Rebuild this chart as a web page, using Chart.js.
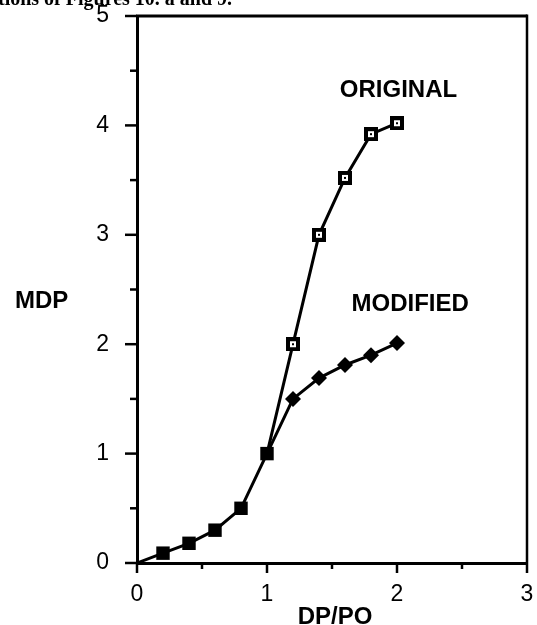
<!DOCTYPE html>
<html><head><meta charset="utf-8">
<script src="https://cdn.jsdelivr.net/npm/chart.js@4"></script>
<style>html,body{margin:0;padding:0;background:#fff;overflow:hidden}#wrap{position:relative;width:537px;height:625px}</style>
</head><body><div id="wrap"><canvas id="c" width="537" height="625"></canvas></div>
<script>
// ---- data ----
const sharedX = [0, 0.2, 0.4, 0.6, 0.8, 1.0];
const sharedY = [0, 0.09, 0.18, 0.30, 0.50, 1.0];
const branchX = [1.0, 1.2, 1.4, 1.6, 1.8, 2.0];
const originalY = [1.0, 2.0, 3.0, 3.52, 3.92, 4.02];
const modifiedY = [1.0, 1.5, 1.69, 1.81, 1.9, 2.01];
const xTickLabels = ['0', '1', '2', '3'];
const yTickLabels = ['0', '1', '2', '3', '4', '5'];
const seriesNames = ['ORIGINAL', 'MODIFIED'];
const xTitle = 'DP/PO';
const yTitle = 'MDP';
const caption = 'tions of Figures 10. a and 9.';

const toPts = (xs, ys) => xs.map((x, i) => ({x: x, y: ys[i]}));

function openSquare() {
  const c = document.createElement('canvas');
  c.width = 14; c.height = 14;
  const g = c.getContext('2d');
  g.fillStyle = '#000'; g.fillRect(0, 0, 14, 14);
  g.fillStyle = '#fff'; g.fillRect(4, 4, 6, 6);
  g.fillStyle = '#000'; g.fillRect(6, 6, 2, 2);
  return c;
}
const openSq = openSquare();

const FONT = '"Liberation Sans", Arial, Helvetica, sans-serif';

const decor = {
  id: 'decor',
  afterDraw(chart) {
    const ctx = chart.ctx, ca = chart.chartArea;
    const xs = chart.scales.x, ys = chart.scales.y;
    ctx.save();
    ctx.strokeStyle = '#000';
    ctx.lineCap = 'butt';
    ys.ticks.forEach(t => {
      const py = ys.getPixelForValue(t.value);
      const major = Number.isInteger(t.value);
      ctx.lineWidth = 2.5;
      ctx.beginPath(); ctx.moveTo(ca.left, py); ctx.lineTo(ca.left - (major ? 12 : 7), py); ctx.stroke();
    });
    xs.ticks.forEach(t => {
      const px = xs.getPixelForValue(t.value);
      const major = Number.isInteger(t.value);
      ctx.lineWidth = 2.5;
      ctx.beginPath(); ctx.moveTo(px, ca.bottom); ctx.lineTo(px, ca.bottom + (major ? 10 : 6)); ctx.stroke();
    });
    ctx.lineWidth = 3;
    ctx.beginPath(); ctx.moveTo(ca.left - 1, ca.top); ctx.lineTo(ca.right, ca.top); ctx.stroke();
    ctx.lineWidth = 2.5;
    ctx.beginPath(); ctx.moveTo(ca.right, ca.top - 1.5); ctx.lineTo(ca.right, ca.bottom); ctx.stroke();
    ctx.fillStyle = '#000';
    ctx.font = 'bold 24px ' + FONT;
    ctx.textBaseline = 'middle';
    ctx.textAlign = 'left';
    ctx.fillText(seriesNames[0], xs.getPixelForValue(1.56), ys.getPixelForValue(4.32));
    ctx.fillText(seriesNames[1], xs.getPixelForValue(1.65), ys.getPixelForValue(2.36));
    ctx.fillText(yTitle, 15, 301);
    ctx.textAlign = 'center';
    ctx.fillText(xTitle, (ca.left + ca.right) / 2 + 3, 617);
    ctx.textAlign = 'left';
    ctx.textBaseline = 'alphabetic';
    ctx.font = 'bold 20px "Liberation Serif", "Times New Roman", serif';
    ctx.fillText(caption, -2, 5);
    ctx.restore();
  }
};

new Chart(document.getElementById('c'), {
  type: 'line',
  data: {
    datasets: [
      {
        label: 'shared',
        data: toPts(sharedX, sharedY),
        borderColor: '#000', backgroundColor: '#000', borderWidth: 3,
        pointStyle: 'rect', pointRadius: sharedX.map((x, i) => i === 0 ? 0 : 9.5),
        pointBorderWidth: 0, tension: 0
      },
      {
        label: seriesNames[0],
        data: toPts(branchX, originalY),
        borderColor: '#000', backgroundColor: '#000', borderWidth: 3,
        pointStyle: openSq, pointRadius: branchX.map((x, i) => i === 0 ? 0 : 7),
        tension: 0
      },
      {
        label: seriesNames[1],
        data: toPts(branchX, modifiedY),
        borderColor: '#000', backgroundColor: '#000', borderWidth: 3,
        pointStyle: 'rectRot', pointRadius: branchX.map((x, i) => i === 0 ? 0 : 8),
        pointBorderWidth: 0, tension: 0
      }
    ]
  },
  options: {
    responsive: false, animation: false, devicePixelRatio: 1,
    layout: {padding: 0},
    plugins: {legend: {display: false}, tooltip: {enabled: false}},
    scales: {
      x: {
        type: 'linear', min: 0, max: 3,
        afterFit: s => { s.height = 62; s.paddingRight = 10; s.paddingLeft = 0; },
        border: {display: true, color: '#000', width: 3},
        grid: {display: true, drawOnChartArea: false, color: 'transparent', tickColor: 'transparent', tickLength: 10},
        ticks: {stepSize: 0.5, padding: 8, color: '#000', font: {family: FONT, size: 23},
          maxRotation: 0, autoSkip: false,
          callback: v => Number.isInteger(v) ? xTickLabels[v] : ''}
      },
      y: {
        type: 'linear', min: 0, max: 5,
        afterFit: s => { s.width = 137; s.paddingTop = 16; s.paddingBottom = 0; },
        border: {display: true, color: '#000', width: 3},
        grid: {display: true, drawOnChartArea: false, color: 'transparent', tickColor: 'transparent', tickLength: 12},
        ticks: {stepSize: 0.5, padding: 16, color: '#000', font: {family: FONT, size: 23},
          autoSkip: false,
          callback: v => Number.isInteger(v) ? yTickLabels[v] : ''}
      }
    }
  },
  plugins: [decor]
});
</script>
</body></html>
